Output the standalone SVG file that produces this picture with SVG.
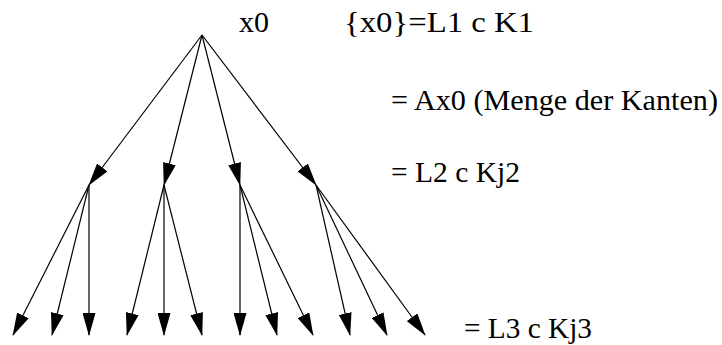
<svg xmlns="http://www.w3.org/2000/svg" width="722" height="345" viewBox="0 0 722 345">
<style>
.t{font-family:"Liberation Serif","Times New Roman",serif;font-size:30px;fill:#000}
.e{stroke:#000;stroke-width:1.2;fill:none;marker-end:url(#ah)}
</style>
<defs>
<marker id="ah" markerUnits="userSpaceOnUse" markerWidth="23" markerHeight="13" refX="22" refY="6.5" orient="auto" viewBox="0 0 23 13">
<path d="M0,0 L23,6.5 L0,13 z" fill="#000"/>
</marker>
</defs>
<rect width="722" height="345" fill="#fff"/>
<g id="connectors">
<line class="e" x1="202" y1="35" x2="89" y2="185"/>
<line class="e" x1="202" y1="35" x2="164" y2="185"/>
<line class="e" x1="202" y1="35" x2="240" y2="185"/>
<line class="e" x1="202" y1="35" x2="316" y2="185"/>
<line class="e" x1="89" y1="185" x2="13" y2="335"/>
<line class="e" x1="89" y1="185" x2="52" y2="335"/>
<line class="e" x1="89" y1="185" x2="89" y2="335"/>
<line class="e" x1="164" y1="185" x2="127" y2="335"/>
<line class="e" x1="164" y1="185" x2="164" y2="335"/>
<line class="e" x1="164" y1="185" x2="202" y2="335"/>
<line class="e" x1="240" y1="185" x2="240" y2="335"/>
<line class="e" x1="240" y1="185" x2="277" y2="335"/>
<line class="e" x1="240" y1="185" x2="313" y2="335"/>
<line class="e" x1="316" y1="185" x2="350" y2="335"/>
<line class="e" x1="316" y1="185" x2="387" y2="335"/>
<line class="e" x1="316" y1="185" x2="425" y2="335"/>
</g>
<g id="root"><text class="t" x="239" y="32" textLength="30" lengthAdjust="spacingAndGlyphs">x0</text></g>
<g id="label-L1"><text class="t" x="344" y="32" textLength="190" lengthAdjust="spacingAndGlyphs">{x0}=L1 c K1</text></g>
<g id="label-A"><text class="t" x="391" y="110" textLength="327" lengthAdjust="spacingAndGlyphs">= Ax0 (Menge der Kanten)</text></g>
<g id="label-L2"><text class="t" x="391" y="182" textLength="129" lengthAdjust="spacingAndGlyphs">= L2 c Kj2</text></g>
<g id="label-L3"><text class="t" x="464" y="338" textLength="128" lengthAdjust="spacingAndGlyphs">= L3 c Kj3</text></g>
</svg>
